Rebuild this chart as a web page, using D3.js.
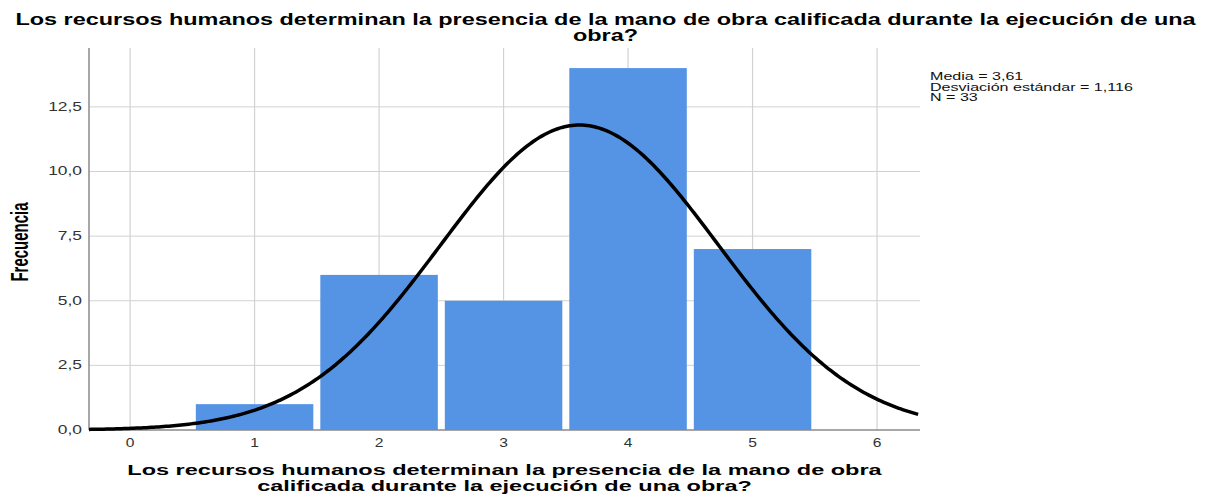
<!DOCTYPE html>
<html>
<head>
<meta charset="utf-8">
<script src="https://cdn.jsdelivr.net/npm/d3@7"></script>
<style>
  body { margin: 0; background: #fff; }
  text { font-family: "Liberation Sans", Arial, sans-serif; }
</style>
</head>
<body>
<div id="plot"></div>
<script>
// data
var categories = [1, 2, 3, 4, 5];
var frequencies = [1, 6, 5, 14, 7];
var yTicks = [0, 2.5, 5, 7.5, 10, 12.5];
var xTicks = [0, 1, 2, 3, 4, 5, 6];
var statMean = 3.61;
var statSd = 1.116;
var statN = 33;
var statLines = ["Media = 3,61", "Desviación estándar = 1,116", "N = 33"];
var titleLines = ["Los recursos humanos determinan la presencia de la mano de obra calificada durante la ejecución de una", "obra?"];
var xLabelLines = ["Los recursos humanos determinan la presencia de la mano de obra", "calificada durante la ejecución de una obra?"];

var W = 1208, H = 498;
var plot = { left: 89, right: 920, top: 48, bottom: 430 };

var svg = d3.select("#plot").append("svg")
  .attr("width", W)
  .attr("height", H);

var xScale = d3.scaleLinear()
  .domain([-0.33, 6.345])
  .range([plot.left, plot.right]);

var yScale = d3.scaleLinear()
  .domain([0, 14.7])
  .range([plot.bottom, 50]);

var comma = function(v) { return d3.format(".1f")(v).replace(".", ","); };

// horizontally stretched text (the source image is wider than it is tall)
function stretched(g, str, x, y, size, weight, sx, anchor, fill) {
  return g.append("text")
    .attr("transform", "translate(" + x + "," + y + ") scale(" + sx + ",1)")
    .attr("text-anchor", anchor)
    .style("font-size", size + "px")
    .style("font-weight", weight)
    .style("fill", fill)
    .text(str);
}

// grid
var grid = svg.append("g");
grid.selectAll("line.h")
  .data(yTicks.filter(function(d) { return d > 0; })).enter()
  .append("line")
  .attr("x1", plot.left).attr("x2", plot.right)
  .attr("y1", function(d) { return yScale(d); })
  .attr("y2", function(d) { return yScale(d); })
  .style("stroke", "#d2d2d2").style("stroke-width", 1);
grid.selectAll("line.v")
  .data(xTicks).enter()
  .append("line")
  .attr("x1", function(d) { return xScale(d); })
  .attr("x2", function(d) { return xScale(d); })
  .attr("y1", plot.top).attr("y2", plot.bottom)
  .style("stroke", "#d2d2d2").style("stroke-width", 1.2);

// bars
var gap = 3.5;
svg.append("g").selectAll("rect")
  .data(categories).enter()
  .append("rect")
  .attr("x", function(d) { return xScale(d - 0.5) + gap; })
  .attr("width", function(d) { return xScale(d + 0.5) - xScale(d - 0.5) - 2 * gap; })
  .attr("y", function(d, i) { return yScale(frequencies[i]); })
  .attr("height", function(d, i) { return yScale(0) - yScale(frequencies[i]); })
  .style("fill", "#5594e4");

// axes lines
svg.append("line")
  .attr("x1", plot.left).attr("x2", plot.left)
  .attr("y1", plot.top).attr("y2", plot.bottom)
  .style("stroke", "#8a8a8a").style("stroke-width", 1.5);
svg.append("line")
  .attr("x1", plot.left).attr("x2", plot.right)
  .attr("y1", plot.bottom).attr("y2", plot.bottom)
  .style("stroke", "#8a8a8a").style("stroke-width", 1.5);

// normal curve from the printed mean / sd / N
var xs = d3.range(xScale.domain()[0], xScale.domain()[1] + 0.001, 0.02);
var normal = function(x) {
  var z = (x - statMean) / statSd;
  return statN / (statSd * Math.sqrt(2 * Math.PI)) * Math.exp(-0.5 * z * z);
};
var line = d3.line()
  .x(function(d) { return xScale(d); })
  .y(function(d) { return yScale(normal(d)); });
svg.append("path")
  .datum(xs)
  .attr("d", line)
  .style("fill", "none")
  .style("stroke", "#000")
  .style("stroke-width", 3.5);

// tick labels
var ticks = svg.append("g");
yTicks.forEach(function(t) {
  stretched(ticks, comma(t), 82, yScale(t) + 4, 12, "normal", 1.45, "end", "#333");
});
xTicks.forEach(function(t) {
  stretched(ticks, String(t), xScale(t), 447, 12, "normal", 1.3, "middle", "#333");
});

// fit a group of lines so the first line spans a target width
function fitLines(lines, cx, baselines, size, weight, targetWidth) {
  var g = svg.append("g");
  var probe = g.append("text").style("font-size", size + "px").style("font-weight", weight).text(lines[0]);
  var sx = targetWidth / probe.node().getComputedTextLength();
  probe.remove();
  lines.forEach(function(l, i) {
    stretched(g, l, cx, baselines[i], size, weight, sx, "middle", "#000");
  });
  return g;
}

// title
fitLines(titleLines, 605.5, [25, 41], 16, "bold", 1181);

// x axis label
fitLines(xLabelLines, 504.5, [475, 491], 15.5, "bold", 755);

// y axis label
svg.append("text")
  .attr("transform", "translate(28,242) scale(1.6,1) rotate(-90)")
  .attr("text-anchor", "middle")
  .style("font-size", "15px")
  .style("font-weight", "bold")
  .style("fill", "#000")
  .text("Frecuencia");

// stats box
var stats = svg.append("g");
var probe = stats.append("text").style("font-size", "10px").text(statLines[1]);
var ssx = 203 / probe.node().getComputedTextLength();
probe.remove();
statLines.forEach(function(l, i) {
  stretched(stats, l, 930, 80 + i * 10.5, 10, "normal", ssx, "start", "#111");
});
</script>
</body>
</html>
